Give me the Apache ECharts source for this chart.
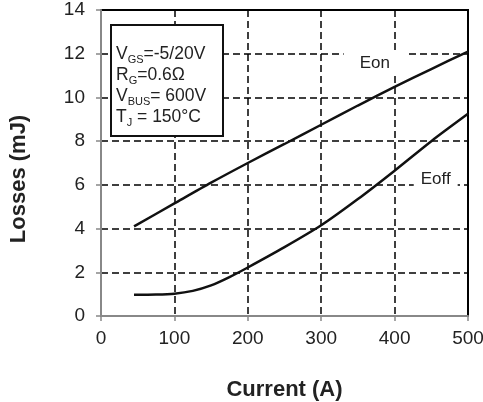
<!DOCTYPE html>
<html>
<head>
<meta charset="utf-8">
<script src="https://cdn.jsdelivr.net/npm/echarts@6/dist/echarts.min.js"></script>
<style>
html,body{margin:0;padding:0;background:#fff;}
#c{width:483px;height:402px;}
</style>
</head>
<body>
<div id="c"></div>
<script>
// Data
const eonCurrent = [45, 100, 150, 200, 250, 300, 350, 400, 450, 500];
const eonLoss    = [4.1, 5.15, 6.1, 7.0, 7.87, 8.75, 9.63, 10.48, 11.3, 12.1];
const eoffCurrent = [45, 75, 100, 125, 150, 175, 200, 250, 300, 350, 400, 450, 500];
const eoffLoss    = [0.97, 0.98, 1.02, 1.15, 1.4, 1.78, 2.22, 3.15, 4.15, 5.35, 6.65, 8.0, 9.25];
const xTicks = [0, 100, 200, 300, 400, 500];
const yTicks = [0, 2, 4, 6, 8, 10, 12, 14];
const eonLabelAt = [373, 11.57];
const eoffLabelAt = [456, 6.26];

const zip = (xs, ys) => xs.map((x, i) => [x, ys[i]]);
const FONT = '"Liberation Sans", Arial, sans-serif';
const chart = echarts.init(document.getElementById('c'), null, {renderer: 'canvas'});

chart.setOption({
  animation: false,
  backgroundColor: '#fff',
  grid: {left: 101, right: 15, top: 10, bottom: 86, show: true, borderColor: '#000', borderWidth: 2,
         containLabel: false, outerBoundsMode: 'none'},
  xAxis: {
    type: 'value', min: xTicks[0], max: xTicks[xTicks.length - 1], interval: 100,
    name: 'Current (A)', nameLocation: 'middle', nameGap: 63,
    nameTextStyle: {fontFamily: FONT, fontWeight: 'bold', fontSize: 22, color: '#222'},
    axisLine: {show: true, lineStyle: {color: '#888', width: 2}},
    axisTick: {show: true, length: 5, lineStyle: {color: '#888', width: 1.5}},
    axisLabel: {fontFamily: FONT, fontSize: 19, color: '#222', margin: 13, hideOverlap: false},
    splitLine: {show: true, lineStyle: {color: '#000', width: 1.5, type: [7, 4]}}
  },
  yAxis: {
    type: 'value', min: yTicks[0], max: yTicks[yTicks.length - 1], interval: 2,
    name: 'Losses (mJ)', nameLocation: 'middle', nameGap: 71,
    nameTextStyle: {fontFamily: FONT, fontWeight: 'bold', fontSize: 22, color: '#222', padding: [0, 32, 0, 0]},
    axisLine: {show: true, lineStyle: {color: '#888', width: 2}},
    axisTick: {show: true, length: 5, lineStyle: {color: '#888', width: 1.5}},
    axisLabel: {fontFamily: FONT, fontSize: 19, color: '#222', margin: 16},
    splitLine: {show: true, lineStyle: {color: '#000', width: 1.5, type: [7, 4]}}
  },
  series: [
    {
      name: 'Eon', type: 'line', data: zip(eonCurrent, eonLoss), smooth: 0.25,
      symbol: 'none', lineStyle: {color: '#111', width: 2.5}, z: 3,
      markPoint: {
        symbol: 'circle', symbolSize: 0,
        data: [{coord: eonLabelAt, value: 'Eon'}],
        label: {show: true, position: 'inside', formatter: 'Eon', fontFamily: FONT, fontSize: 17, color: '#222',
                backgroundColor: '#fff', padding: [7, 16, 1, 16]}
      }
    },
    {
      name: 'Eoff', type: 'line', data: zip(eoffCurrent, eoffLoss), smooth: 0.25,
      symbol: 'none', lineStyle: {color: '#111', width: 2.5}, z: 3,
      markPoint: {
        symbol: 'circle', symbolSize: 0,
        data: [{coord: eoffLabelAt, value: 'Eoff'}],
        label: {show: true, position: 'inside', formatter: 'Eoff', fontFamily: FONT, fontSize: 17, color: '#222',
                backgroundColor: '#fff', padding: [3, 7, 3, 7]}
      }
    }
  ],
  graphic: [
    {type: 'rect', z: 100, zlevel: 0, shape: {x: 111, y: 25, width: 112, height: 111},
     style: {fill: '#fff', stroke: '#111', lineWidth: 2}},
    {type: 'text', z: 101, zlevel: 0, x: 116, y: 44,
     style: {
       text: '{n|V}{s|GS}{n|=-5/20V}\n{n|R}{s|G}{n|=0.6Ω}\n{n|V}{s|BUS}{n|= 600V}\n{n|T}{s|J}{n| = 150°C}',
       fill: '#222', font: '17px ' + FONT,
       rich: {
         n: {fontFamily: FONT, fontSize: 17.5, lineHeight: 21, fill: '#222'},
         s: {fontFamily: FONT, fontSize: 11, lineHeight: 14, verticalAlign: 'bottom', fill: '#222'}
       }
     }}
  ]
});
</script>
</body>
</html>
